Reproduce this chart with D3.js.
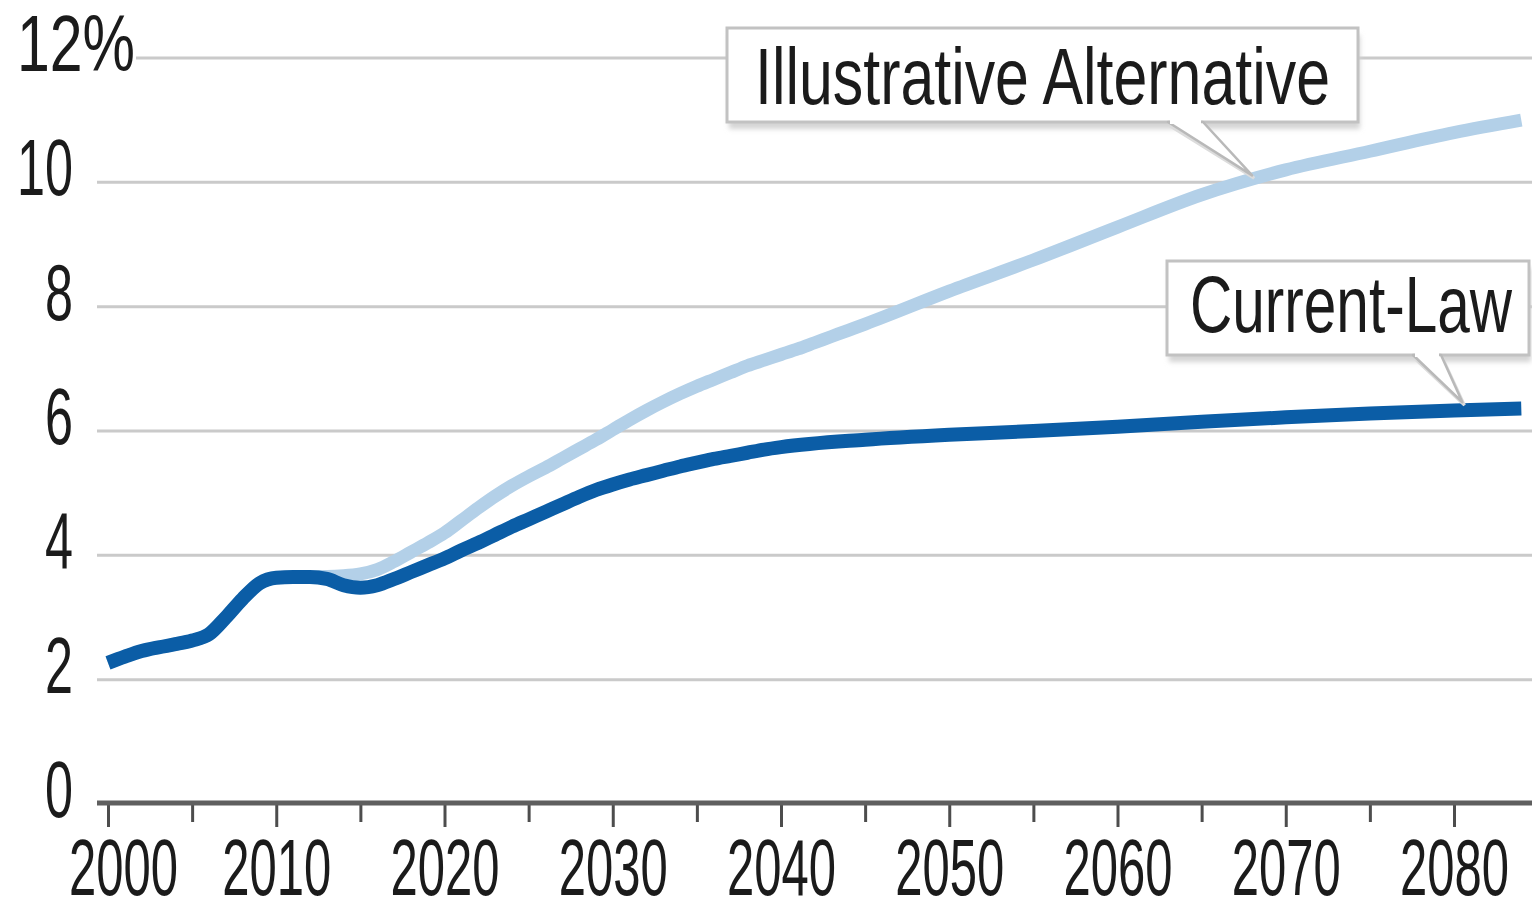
<!DOCTYPE html>
<html>
<head>
<meta charset="utf-8">
<script src="https://cdn.jsdelivr.net/npm/d3@7/dist/d3.min.js"></script>
<style>
  html, body { margin: 0; padding: 0; background: #ffffff; }
  svg { display: block; }
  .lbl { font-family: "Liberation Sans Narrow", "Liberation Sans", Arial, sans-serif; fill: #1b1b1b; }
</style>
</head>
<body>
<svg id="chart" width="1532" height="899"></svg>
<script>
// Spending as a share of GDP, percent — two projections
const currentLawYears = [2000, 2001, 2002, 2003, 2004, 2005, 2006, 2007, 2008, 2009,
  2010, 2011, 2012, 2013, 2014, 2015, 2016, 2017, 2018, 2019,
  2020, 2021, 2022, 2023, 2024, 2025, 2026, 2027, 2028, 2029,
  2030, 2031, 2032, 2033, 2034, 2035, 2036, 2037, 2038, 2039,
  2040, 2045, 2050, 2055, 2060, 2065, 2070, 2075, 2080, 2084];
const currentLawValues = [2.27, 2.37, 2.46, 2.52, 2.57, 2.63, 2.73, 3.0, 3.3, 3.55,
  3.64, 3.65, 3.65, 3.62, 3.52, 3.48, 3.52, 3.62, 3.73, 3.84,
  3.95, 4.08, 4.2, 4.33, 4.46, 4.58, 4.7, 4.82, 4.94, 5.05,
  5.14, 5.22, 5.29, 5.36, 5.43, 5.49, 5.55, 5.6, 5.65, 5.7,
  5.74, 5.86, 5.94, 6.0, 6.07, 6.15, 6.22, 6.28, 6.33, 6.36];

const alternativeYears = [2000, 2001, 2002, 2003, 2004, 2005, 2006, 2007, 2008, 2009,
  2010, 2011, 2012, 2013, 2014, 2015, 2016, 2017, 2018, 2019,
  2020, 2021, 2022, 2023, 2024, 2025, 2026, 2027, 2028, 2029,
  2030, 2031, 2032, 2033, 2034, 2035, 2036, 2037, 2038, 2039,
  2040, 2041, 2042, 2043, 2044, 2045, 2050, 2055, 2060, 2065,
  2070, 2075, 2080, 2084];
const alternativeValues = [2.27, 2.37, 2.46, 2.52, 2.57, 2.63, 2.73, 3.0, 3.3, 3.55,
  3.64, 3.65, 3.66, 3.66, 3.67, 3.7, 3.77, 3.9, 4.05, 4.2,
  4.36, 4.56, 4.76, 4.95, 5.12, 5.27, 5.41, 5.56, 5.71, 5.86,
  6.02, 6.18, 6.33, 6.47, 6.6, 6.72, 6.83, 6.94, 7.05, 7.14,
  7.23, 7.32, 7.42, 7.52, 7.62, 7.72, 8.25, 8.75, 9.28, 9.8,
  10.2, 10.5, 10.8, 11.0];

const yTickValues = [0, 2, 4, 6, 8, 10, 12];
const yTickLabels = ["0", "2", "4", "6", "8", "10", "12%"];
const xTickValues = [2000, 2005, 2010, 2015, 2020, 2025, 2030, 2035, 2040, 2045,
  2050, 2055, 2060, 2065, 2070, 2075, 2080];
const xTickLabels = ["2000", "", "2010", "", "2020", "", "2030", "", "2040", "",
  "2050", "", "2060", "", "2070", "", "2080"];

const seriesNames = ["Illustrative Alternative", "Current-Law"];
// Where each callout points: [year, value]
const calloutTargets = [[2068, 10.0], [2080.5, 6.35]];

const svg = d3.select("#chart");
const W = 1532, H = 899;

const x = d3.scaleLinear().domain([2000, 2080]).range([108, 1454]);
const y = d3.scaleLinear().domain([0, 12]).range([804, 58]);

const plotLeft = 97, plotRight = W;

// horizontal gridlines
svg.append("g")
  .selectAll("line")
  .data(yTickValues.filter(v => v > 0))
  .join("line")
  .attr("x1", plotLeft).attr("x2", plotRight)
  .attr("y1", d => y(d)).attr("y2", d => y(d))
  .attr("stroke", "#cacaca")
  .attr("stroke-width", 3);

// y labels: digits right-aligned at a common edge, the unit sign hangs past it
const yLab = svg.append("g");
yTickValues.forEach((v, i) => {
  const t = yTickLabels[i];
  const digits = t.replace("%", "");
  const hasUnit = t !== digits;
  if (hasUnit) {
    yLab.append("rect")
      .attr("x", 76).attr("y", y(v) - 8).attr("width", 60).attr("height", 16)
      .attr("fill", "#fff");
  }
  yLab.append("text")
    .attr("class", "lbl")
    .attr("x", hasUnit ? 17 : 73).attr("y", y(v) + 13)
    .attr("text-anchor", hasUnit ? "start" : "end")
    .attr("font-size", 80)
    .attr("textLength", 28 * digits.length + (hasUnit ? 62 : 0))
    .attr("lengthAdjust", "spacingAndGlyphs")
    .text(t);
});

// x axis
const xAxis = d3.axisBottom(x)
  .tickValues(xTickValues)
  .tickFormat((d, i) => xTickLabels[i])
  .tickSizeOuter(0)
  .tickSize(20)
  .tickPadding(14);

const gx = svg.append("g")
  .attr("transform", `translate(0,${y(0) - 1})`)
  .call(xAxis);
gx.select(".domain").remove();
gx.append("line")
  .attr("x1", plotLeft).attr("x2", plotRight)
  .attr("y1", 0).attr("y2", 0)
  .attr("stroke", "#5f5f5f").attr("stroke-width", 5);
gx.selectAll(".tick line")
  .attr("stroke", "#4d4d4d")
  .attr("stroke-width", 3)
  .attr("y2", (d, i) => (xTickLabels[i] ? 24 : 19));
gx.selectAll(".tick text")
  .attr("class", "lbl")
  .attr("font-size", 80)
  .attr("font-family", null)
  .attr("fill", "#1b1b1b")
  .attr("dy", null)
  .attr("y", 92)
  .attr("textLength", (d, i) => (xTickLabels[i] ? 109 : 0))
  .attr("lengthAdjust", "spacingAndGlyphs")
  .attr("dx", (d, i) => (i === 0 ? 15 : 0));

// lines
const line = d3.line()
  .x(d => x(d[0]))
  .y(d => y(d[1]))
  .curve(d3.curveMonotoneX);

const altData = alternativeYears.map((yr, i) => [yr, alternativeValues[i]]);
const clData = currentLawYears.map((yr, i) => [yr, currentLawValues[i]]);

svg.append("path")
  .datum(altData)
  .attr("d", line)
  .attr("fill", "none")
  .attr("stroke", "#b3d0e8")
  .attr("stroke-width", 13)
  .attr("stroke-linejoin", "round");

svg.append("path")
  .datum(clData)
  .attr("d", line)
  .attr("fill", "none")
  .attr("stroke", "#0b5da6")
  .attr("stroke-width", 14)
  .attr("stroke-linejoin", "round");

// callout boxes
const defs = svg.append("defs");
defs.append("filter").attr("id", "soft")
  .attr("x", "-10%").attr("y", "-30%").attr("width", "120%").attr("height", "160%")
  .append("feGaussianBlur").attr("stdDeviation", 2.5);

const callouts = [
  { box: [727, 28, 631, 94], base: [1168, 1203], textX: 755, textY: 104, textW: 575 },
  { box: [1167, 261, 362, 94], base: [1413, 1441], textX: 1190, textY: 332, textW: 322 }
];

callouts.forEach((c, i) => {
  const [bx, by, bw, bh] = c.box;
  const tx = x(calloutTargets[i][0]);
  const ty = y(calloutTargets[i][1]) - 7;
  const g = svg.append("g");
  // drop shadow
  g.append("rect")
    .attr("x", bx + 2).attr("y", by + 7).attr("width", bw).attr("height", bh)
    .attr("fill", "#d4d4d4").attr("filter", "url(#soft)");
  // pointer shadow
  g.append("path")
    .attr("d", `M${c.base[0] + 2},${by + bh + 4}L${tx + 2},${ty + 3}L${c.base[1] + 2},${by + bh + 4}`)
    .attr("fill", "none").attr("stroke", "#dcdcdc").attr("stroke-width", 3);
  // box
  g.append("rect")
    .attr("x", bx).attr("y", by).attr("width", bw).attr("height", bh)
    .attr("fill", "#ffffff").attr("stroke", "#c2c2c2").attr("stroke-width", 3);
  // pointer
  g.append("path")
    .attr("d", `M${c.base[0]},${by + bh}L${tx},${ty}L${c.base[1]},${by + bh}Z`)
    .attr("fill", "#ffffff").attr("stroke", "#b9b9b9").attr("stroke-width", 2.5)
    .attr("stroke-linejoin", "round");
  g.append("line")
    .attr("x1", c.base[0] + 2).attr("x2", c.base[1] - 2)
    .attr("y1", by + bh).attr("y2", by + bh)
    .attr("stroke", "#ffffff").attr("stroke-width", 4);
  g.append("text")
    .attr("class", "lbl")
    .attr("x", c.textX).attr("y", c.textY)
    .attr("font-size", 80)
    .attr("textLength", c.textW)
    .attr("lengthAdjust", "spacingAndGlyphs")
    .text(seriesNames[i]);
});
</script>
</body>
</html>
